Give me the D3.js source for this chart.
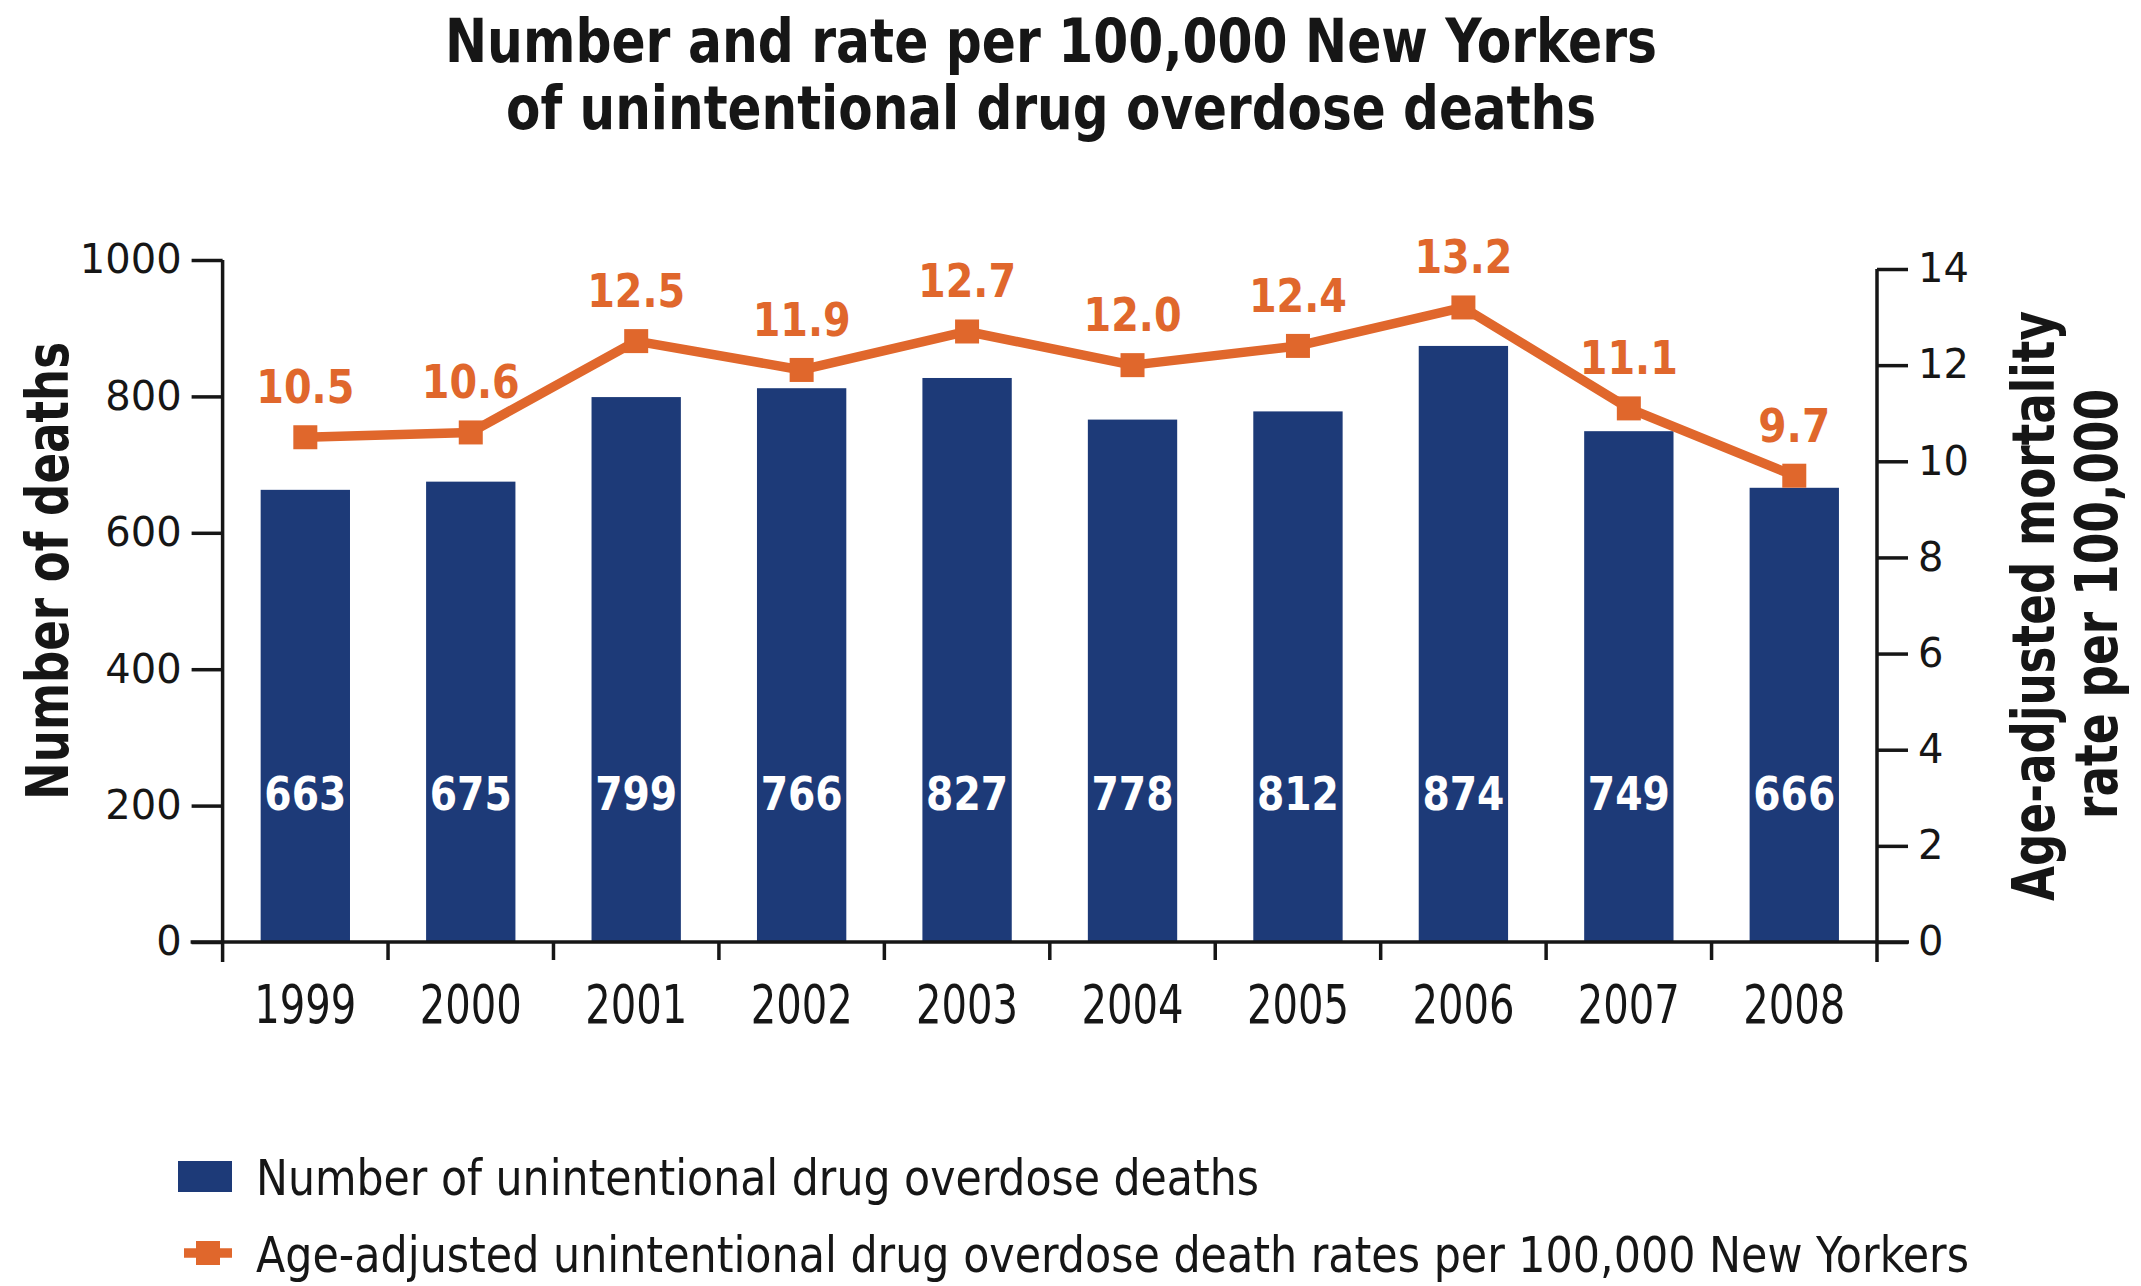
<!DOCTYPE html>
<html>
<head>
<meta charset="utf-8">
<script src="https://cdn.jsdelivr.net/npm/d3@7/dist/d3.min.js"></script>
<style>
  html, body { margin: 0; padding: 0; background: #fff; }
  svg { display: block; }
</style>
</head>
<body>
<svg id="chart" width="2141" height="1286"></svg>
<script>
// ---- data ----
const years = ["1999", "2000", "2001", "2002", "2003", "2004", "2005", "2006", "2007", "2008"];
// bar heights as drawn in the reference
const deaths = [663, 675, 799, 812, 827, 766, 778, 874, 749, 666];
// numbers printed inside the bars (as printed in the reference)
const deathLabels = ["663", "675", "799", "766", "827", "778", "812", "874", "749", "666"];
const rates = [10.5, 10.6, 12.5, 11.9, 12.7, 12.0, 12.4, 13.2, 11.1, 9.7];
const leftTicks = [0, 200, 400, 600, 800, 1000];
const rightTicks = [0, 2, 4, 6, 8, 10, 12, 14];
const titleLines = ["Number and rate per 100,000 New Yorkers", "of unintentional drug overdose deaths"];
const leftTitle = "Number of deaths";
const rightTitleLines = ["Age-adjusted mortality", "rate per 100,000"];
const legendLabels = ["Number of unintentional drug overdose deaths",
  "Age-adjusted unintentional drug overdose death rates per 100,000 New Yorkers"];

// ---- styles ----
const BLUE = "#1d3a78";
const ORANGE = "#e0672c";
const INK = "#161616";
const COND = "'Liberation Sans Narrow', 'DejaVu Sans Condensed', 'DejaVu Sans', sans-serif";
const WIDE = "'DejaVu Sans', Verdana, sans-serif";

const svg = d3.select("#chart");
const left = 222.6, right = 1877, base = 942;

const x = d3.scaleBand().domain(years).range([left, right]).paddingInner(0.46).paddingOuter(0.23);
const yL = d3.scaleLinear().domain([0, 1000]).range([base, 260]);
const yR = d3.scaleLinear().domain([0, 14]).range([base, 269]);

// ---- title ----
const title = svg.append("g").attr("font-family", COND).attr("font-weight", "bold")
  .attr("font-size", 60).attr("fill", INK).attr("text-anchor", "middle");
title.append("text").attr("x", 1051).attr("y", 62).attr("textLength", 1212)
  .attr("lengthAdjust", "spacingAndGlyphs").text(titleLines[0]);
title.append("text").attr("x", 1051).attr("y", 129).attr("textLength", 1090)
  .attr("lengthAdjust", "spacingAndGlyphs").text(titleLines[1]);

// ---- bars ----
svg.append("g").selectAll("rect").data(years).join("rect")
  .attr("x", d => x(d))
  .attr("width", x.bandwidth())
  .attr("y", (d, i) => yL(deaths[i]))
  .attr("height", (d, i) => base - yL(deaths[i]))
  .attr("fill", BLUE);

// bar value labels
svg.append("g").selectAll("text").data(years).join("text")
  .attr("x", d => x(d) + x.bandwidth() / 2)
  .attr("y", 810)
  .attr("text-anchor", "middle")
  .attr("font-family", "'DejaVu Sans Condensed', 'DejaVu Sans', sans-serif")
  .attr("font-weight", "bold")
  .attr("font-size", 46)
  .attr("fill", "#fff")
  .attr("textLength", 82).attr("lengthAdjust", "spacingAndGlyphs")
  .text((d, i) => deathLabels[i]);

// ---- axes ----
const axisG = svg.append("g").attr("stroke", INK).attr("stroke-width", 3.5).attr("fill", "none");
// baseline
axisG.append("line").attr("x1", left - 32).attr("x2", right + 32).attr("y1", base).attr("y2", base);
// left axis
const leftAxis = d3.axisLeft(yL).tickValues(leftTicks).tickSize(31).tickPadding(10).tickFormat(d3.format("d"));
const gL = svg.append("g").attr("transform", `translate(${left},0)`).call(leftAxis);
gL.select(".domain").attr("stroke", INK).attr("stroke-width", 3.5).attr("d", `M0,${yL(1000)}V${base + 20}`);
gL.selectAll(".tick line").attr("stroke", INK).attr("stroke-width", 3.5);
gL.selectAll(".tick text").attr("font-family", WIDE).attr("font-size", 40).attr("fill", INK);

// right axis
const rightAxis = d3.axisRight(yR).tickValues(rightTicks).tickSize(31).tickPadding(10).tickFormat(d3.format("d"));
const gR = svg.append("g").attr("transform", `translate(${right},0)`).call(rightAxis);
gR.select(".domain").attr("stroke", INK).attr("stroke-width", 3.5).attr("d", `M0,${yR(14)}V${base + 20}`);
gR.selectAll(".tick line").attr("stroke", INK).attr("stroke-width", 3.5);
gR.selectAll(".tick text").attr("font-family", WIDE).attr("font-size", 40).attr("fill", INK);

// bottom axis: ticks at band boundaries
const step = x.step();
const bounds = years.map(d => x(d) - (step - x.bandwidth()) / 2).slice(1);
svg.append("g").selectAll("line").data(bounds).join("line")
  .attr("x1", d => d).attr("x2", d => d).attr("y1", base).attr("y2", base + 18)
  .attr("stroke", INK).attr("stroke-width", 3.5);

const bottomAxis = d3.axisBottom(x).tickSize(0).tickPadding(0);
const gB = svg.append("g").attr("transform", `translate(0,${base})`).call(bottomAxis);
gB.select(".domain").remove();
gB.selectAll(".tick text")
  .attr("dy", null).attr("y", 81)
  .attr("font-family", COND).attr("font-size", 54).attr("fill", INK)
  .attr("textLength", 102).attr("lengthAdjust", "spacingAndGlyphs");

// axis titles
svg.append("text")
  .attr("transform", `translate(68,571) rotate(-90)`)
  .attr("text-anchor", "middle").attr("font-family", COND).attr("font-weight", "bold")
  .attr("font-size", 58).attr("fill", INK)
  .attr("textLength", 458).attr("lengthAdjust", "spacingAndGlyphs")
  .text(leftTitle);
const rt = svg.append("g").attr("font-family", COND).attr("font-weight", "bold")
  .attr("font-size", 58).attr("fill", INK).attr("text-anchor", "middle");
rt.append("text").attr("transform", `translate(2054,606) rotate(-90)`)
  .attr("textLength", 590).attr("lengthAdjust", "spacingAndGlyphs").text(rightTitleLines[0]);
rt.append("text").attr("transform", `translate(2117,604) rotate(-90)`)
  .attr("textLength", 430).attr("lengthAdjust", "spacingAndGlyphs").text(rightTitleLines[1]);

// ---- rate line ----
const line = d3.line().x((d, i) => x(years[i]) + x.bandwidth() / 2).y(d => yR(d));
svg.append("path").datum(rates).attr("d", line)
  .attr("fill", "none").attr("stroke", ORANGE).attr("stroke-width", 9.5).attr("stroke-linejoin", "round");
const ms = 24;
svg.append("g").selectAll("rect").data(rates).join("rect")
  .attr("x", (d, i) => x(years[i]) + x.bandwidth() / 2 - ms / 2)
  .attr("y", d => yR(d) - ms / 2)
  .attr("width", ms).attr("height", ms).attr("fill", ORANGE);
svg.append("g").selectAll("text").data(rates).join("text")
  .attr("x", (d, i) => x(years[i]) + x.bandwidth() / 2)
  .attr("y", d => yR(d) - 34)
  .attr("text-anchor", "middle")
  .attr("font-family", "'DejaVu Sans Condensed', 'DejaVu Sans', sans-serif")
  .attr("font-weight", "bold").attr("font-size", 46).attr("fill", ORANGE)
  .attr("textLength", d => d.toFixed(1).length === 4 ? 98 : 72).attr("lengthAdjust", "spacingAndGlyphs")
  .text(d => d.toFixed(1));

// ---- legend ----
const lg = svg.append("g");
lg.append("rect").attr("x", 178).attr("y", 1161).attr("width", 54).attr("height", 31).attr("fill", BLUE);
lg.append("text").attr("x", 256).attr("y", 1195)
  .attr("font-family", COND).attr("font-size", 50).attr("fill", INK)
  .attr("textLength", 1003).attr("lengthAdjust", "spacingAndGlyphs").text(legendLabels[0]);
lg.append("line").attr("x1", 184).attr("x2", 232).attr("y1", 1253).attr("y2", 1253)
  .attr("stroke", ORANGE).attr("stroke-width", 9.5);
lg.append("rect").attr("x", 196).attr("y", 1241).attr("width", 24).attr("height", 24).attr("fill", ORANGE);
lg.append("text").attr("x", 256).attr("y", 1272)
  .attr("font-family", COND).attr("font-size", 50).attr("fill", INK)
  .attr("textLength", 1713).attr("lengthAdjust", "spacingAndGlyphs").text(legendLabels[1]);
</script>
</body>
</html>
